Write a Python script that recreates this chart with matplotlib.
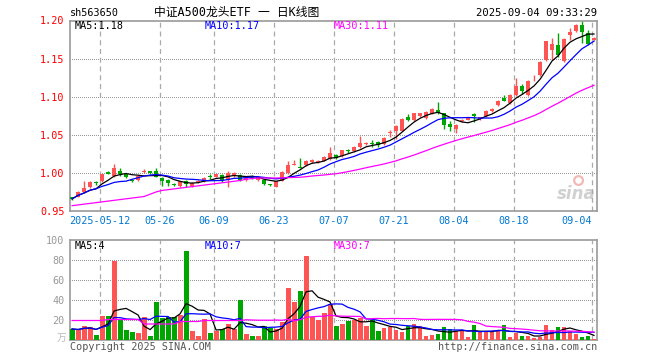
import numpy as np
import pandas as pd
from matplotlib import pyplot as plt
from matplotlib import transforms

# Daily candles (one per trading day)
opens = [0.968, 0.969, 0.975, 0.981, 0.988, 0.989, 1.001, 0.996, 1.002, 0.998,
         0.991, 0.991, 1.001, 1.002, 1.003, 0.993, 0.991, 0.985, 0.983, 0.990,
         0.983, 0.988, 0.989, 0.996, 0.995, 0.997, 0.992, 0.997, 0.997, 0.991,
         0.996, 0.991, 0.991, 0.985, 0.982, 0.990, 1.000, 1.011, 1.008, 1.010,
         1.014, 1.014, 1.016, 1.018, 1.0237, 1.022, 1.030, 1.029, 1.034, 1.038,
         1.0395, 1.040, 1.038, 1.053, 1.055, 1.0556, 1.073, 1.069, 1.075, 1.0723,
         1.0775, 1.082, 1.078, 1.0644, 1.058, 1.068, 1.070, 1.077, 1.071, 1.075,
         1.081, 1.0885, 1.0986, 1.092, 1.102, 1.114, 1.102, 1.124, 1.128, 1.148,
         1.161, 1.1675, 1.1465, 1.181, 1.186, 1.1947, 1.1833, 1.175]
highs = [0.969, 0.976, 0.990, 0.990, 0.989, 0.999, 1.002, 1.012, 1.006, 0.999,
         0.992, 0.997, 1.005, 1.003, 1.006, 0.994, 0.992, 0.987, 0.990, 0.991,
         0.988, 0.991, 0.994, 0.998, 0.999, 0.999, 1.003, 1.001, 0.998, 0.996,
         0.997, 0.995, 0.992, 0.986, 0.990, 1.002, 1.015, 1.017, 1.019, 1.017,
         1.018, 1.017, 1.022, 1.034, 1.025, 1.030, 1.032, 1.035, 1.049, 1.041,
         1.043, 1.042, 1.047, 1.056, 1.063, 1.072, 1.0775, 1.079, 1.079, 1.081,
         1.085, 1.093, 1.079, 1.068, 1.064, 1.071, 1.074, 1.078, 1.074, 1.082,
         1.085, 1.096, 1.102, 1.103, 1.124, 1.117, 1.122, 1.128, 1.147, 1.173,
         1.177, 1.184, 1.177, 1.190, 1.196, 1.199, 1.187, 1.178]
lows = [0.964, 0.968, 0.974, 0.980, 0.984, 0.988, 0.998, 0.995, 0.996, 0.993,
        0.988, 0.990, 1.000, 0.999, 0.994, 0.983, 0.983, 0.983, 0.981, 0.981,
        0.982, 0.987, 0.988, 0.992, 0.994, 0.988, 0.981, 0.995, 0.990, 0.990,
        0.992, 0.990, 0.984, 0.983, 0.981, 0.989, 0.999, 1.010, 1.006, 1.009,
        1.013, 1.013, 1.015, 1.017, 1.018, 1.021, 1.026, 1.028, 1.033, 1.036,
        1.034, 1.034, 1.037, 1.047, 1.045, 1.055, 1.068, 1.068, 1.074, 1.071,
        1.077, 1.077, 1.058, 1.055, 1.053, 1.067, 1.069, 1.067, 1.070, 1.074,
        1.080, 1.088, 1.094, 1.091, 1.101, 1.104, 1.101, 1.120, 1.127, 1.147,
        1.148, 1.152, 1.146, 1.174, 1.185, 1.171, 1.1675, 1.174]
closes = [0.966, 0.975, 0.980, 0.988, 0.987, 0.998, 0.999, 1.007, 0.998, 0.994,
          0.990, 0.996, 1.002, 1.000, 0.995, 0.990, 0.987, 0.984, 0.989, 0.986,
          0.987, 0.990, 0.9935, 0.995, 0.998, 0.991, 0.9995, 0.9995, 0.991, 0.995,
          0.993, 0.994, 0.985, 0.984, 0.989, 1.001, 1.011, 1.012, 1.007, 1.016,
          1.0175, 1.016, 1.0215, 1.026, 1.0193, 1.0294, 1.029, 1.0345, 1.039, 1.039,
          1.0385, 1.036, 1.046, 1.0535, 1.061, 1.071, 1.070, 1.078, 1.078, 1.0798,
          1.084, 1.078, 1.063, 1.060, 1.063, 1.070, 1.073, 1.075, 1.073, 1.081,
          1.084, 1.095, 1.095, 1.1026, 1.114, 1.108, 1.121, 1.125, 1.146, 1.1725,
          1.1695, 1.1545, 1.176, 1.185, 1.1947, 1.185, 1.1697, 1.177]
# volume in 10k shares
volumes = [11, 10, 14, 13, 5, 24, 24, 79, 21, 10,
           8, 7, 23, 4, 38, 22, 23, 23, 25, 89,
           9, 4, 21, 7, 9, 11, 16, 11, 40, 6,
           4, 4, 14, 12, 11, 18, 52, 38, 49, 84,
           23, 20, 27, 36, 14, 16, 19, 20, 22, 14,
           20, 9, 12, 13, 10, 8, 14, 16, 14, 4,
           5, 6, 13, 11, 9, 9, 3, 15, 8, 8,
           8, 9, 15, 3, 7, 4, 4, 2, 3, 15,
           10, 13, 13, 9, 6, 3, 4, 1]

# MA30 values seen on the chart before 30 days of history are available
ma30_head = [0.957, 0.958, 0.959, 0.960, 0.961, 0.962, 0.963, 0.964, 0.965, 0.966,
             0.967, 0.968, 0.969, 0.972, 0.975, 0.977, 0.978, 0.979, 0.980, 0.981,
             0.982, 0.983, 0.984, 0.985, 0.986, 0.987, 0.988, 0.989, 0.990]
vol_ma30_head = [19.5, 19.5, 19.5, 19.5, 19.5, 19.5, 20.5, 20.5, 20.5, 20.5,
                 20.5, 20.5, 16, 16, 16, 16, 16, 16, 18.5, 18.5,
                 18.5, 18.5, 19.5, 19.5, 19.5, 19.5, 19.5, 19.5, 19.5]

date_labels = ['2025-05-12', '05-26', '06-09', '06-23', '07-07', '07-21', '08-04', '08-18', '09-04']
date_index = [5, 15, 24, 34, 44, 54, 64, 74, 87]
price_ticks = [0.95, 1.00, 1.05, 1.10, 1.15, 1.20]
price_grid = [1.00, 1.05, 1.10, 1.15]
vol_ticks = [20, 40, 60, 80, 100]
vol_grid = [20, 40, 60, 80]

RED = '#ff5454'
GREEN = '#00a600'
MONO = ['DejaVu Sans Mono', 'Noto Sans CJK SC']


def moving_averages(values, head):
    s = pd.Series(values, dtype=float)
    ma5 = s.rolling(5, min_periods=1).mean()
    ma10 = s.rolling(10, min_periods=1).mean()
    ma30 = s.rolling(30).mean()
    ma30.iloc[:len(head)] = head
    return ma5, ma10, ma30


def trunc(v, nd):
    # the chart cuts the value instead of rounding it
    f = 10 ** nd
    return np.floor(v * f + 1e-9) / f


def style_axes(ax, ticks, grid, color, fmt):
    for sp in ax.spines.values():
        sp.set_color('#9a9a9a')
        sp.set_linewidth(1.2)
    ax.set_yticks(ticks)
    ax.set_yticklabels([fmt(t) for t in ticks], color=color, family=MONO, fontsize=7.3)
    ax.tick_params(axis='y', length=0, pad=4)
    ax.set_xticks([])
    for t in grid:
        ax.axhline(t, color='#999999', lw=0.72, ls=(0, (1, 2)), zorder=1,
                   snap=True, antialiased=False)
    for d in date_index:
        ax.axvline(d - 0.4, color='#aaaaaa', lw=0.9, ls=(0, (4, 3)), zorder=1)
    ax.set_xlim(-0.35, 87.5)


def main():
    x = np.arange(len(closes))
    o = np.array(opens)
    c = np.array(closes)
    up = c >= o
    colors = np.where(up, RED, GREEN)

    fig = plt.figure(figsize=(6.6, 3.6), dpi=100)
    ax = fig.add_axes([70 / 660, 149 / 360, 527 / 660, 190.5 / 360])
    axv = fig.add_axes([70 / 660, 20 / 360, 527 / 660, 100 / 360])

    # price panel
    ax.set_ylim(0.95, 1.20)
    style_axes(ax, price_ticks, price_grid, '#ff0000', lambda t: f'{t:.2f}')
    ax.set_ylim(0.95, 1.20)
    ax.vlines(x, lows, highs, colors=colors, lw=1, zorder=2)
    body = np.maximum(np.abs(c - o), 0.0008)
    ax.bar(x, body, bottom=np.minimum(o, c), width=0.78, color=colors, zorder=3)
    ma5, ma10, ma30 = moving_averages(closes, ma30_head)
    ax.plot(x, ma5, color='black', lw=0.9, zorder=4)
    ax.plot(x, ma10, color='#0000ff', lw=0.9, zorder=4)
    ax.plot(x, ma30, color='#ff00ff', lw=0.9, zorder=4)

    tr = transforms.blended_transform_factory(ax.transData, ax.transAxes)
    for lab, d in zip(date_labels, date_index):
        ha = 'right' if d == date_index[-1] else 'center'
        ax.text(d - 0.4, -0.055, lab, transform=tr, ha=ha, va='center',
                color='#0078d4', family=MONO, fontsize=7.3)

    ax.text(0.008, 0.972, f'MA5:{trunc(ma5.iloc[-1], 2):.2f}', transform=ax.transAxes,
            ha='left', va='center', family=MONO, fontsize=7.3, color='black')
    ax.text(0.255, 0.972, f'MA10:{trunc(ma10.iloc[-1], 2):.2f}', transform=ax.transAxes,
            ha='left', va='center', family=MONO, fontsize=7.3, color='#0000ff')
    ax.text(0.5, 0.972, f'MA30:{trunc(ma30.iloc[-1], 2):.2f}', transform=ax.transAxes,
            ha='left', va='center', family=MONO, fontsize=7.3, color='#ff00ff')

    # faint sina watermark
    ax.text(0.998, 0.09, 'sina', transform=ax.transAxes, ha='right', va='center',
            fontsize=12, fontweight='bold', style='italic', color='#d0d0d0', zorder=0)
    ax.scatter([0.965], [0.16], transform=ax.transAxes, s=40, facecolors='none',
               edgecolors='#f2b8b8', linewidths=1.6, zorder=0)

    # volume panel
    axv.set_ylim(0, 100)
    style_axes(axv, vol_ticks, vol_grid, '#999999', lambda t: f'{t:d}')
    axv.set_ylim(0, 100)
    axv.bar(x, volumes, width=0.82, color=colors, zorder=3)
    v5, v10, v30 = moving_averages(volumes, vol_ma30_head)
    axv.plot(x, v5, color='black', lw=0.9, zorder=4)
    axv.plot(x, v10, color='#0000ff', lw=0.9, zorder=4)
    axv.plot(x, v30, color='#ff00ff', lw=0.9, zorder=4)
    axv.text(0.008, 0.94, f'MA5:{int(v5.iloc[-1])}', transform=axv.transAxes,
             ha='left', va='center', family=MONO, fontsize=7.3, color='black')
    axv.text(0.255, 0.94, f'MA10:{int(v10.iloc[-1])}', transform=axv.transAxes,
             ha='left', va='center', family=MONO, fontsize=7.3, color='#0000ff')
    axv.text(0.5, 0.94, f'MA30:{int(v30.iloc[-1])}', transform=axv.transAxes,
             ha='left', va='center', family=MONO, fontsize=7.3, color='#ff00ff')

    # header and footer texts
    fig.text(70 / 660, 1 - 13 / 360, 'sh563650', ha='left', va='center',
             family=MONO, fontsize=7.3)
    fig.text(237 / 660, 1 - 12 / 360, '中证A500龙头ETF 一 日K线图', ha='center', va='center',
             family=MONO, fontsize=8.5)
    fig.text(597 / 660, 1 - 13 / 360, '2025-09-04 09:33:29', ha='right', va='center',
             family=MONO, fontsize=7.6)
    fig.text(66 / 660, 1 - 338 / 360, '万', ha='right', va='center',
             family=MONO, fontsize=7, color='#bbbbbb')
    fig.text(70 / 660, 1 - 347 / 360, 'Copyright 2025 SINA.COM', ha='left', va='center',
             family=MONO, fontsize=7.3, color='#555555')
    fig.text(597 / 660, 1 - 347 / 360, 'http://finance.sina.com.cn', ha='right', va='center',
             family=MONO, fontsize=7.3, color='#555555')

    fig.savefig('out.png', dpi=100)


if __name__ == "__main__":
    main()
